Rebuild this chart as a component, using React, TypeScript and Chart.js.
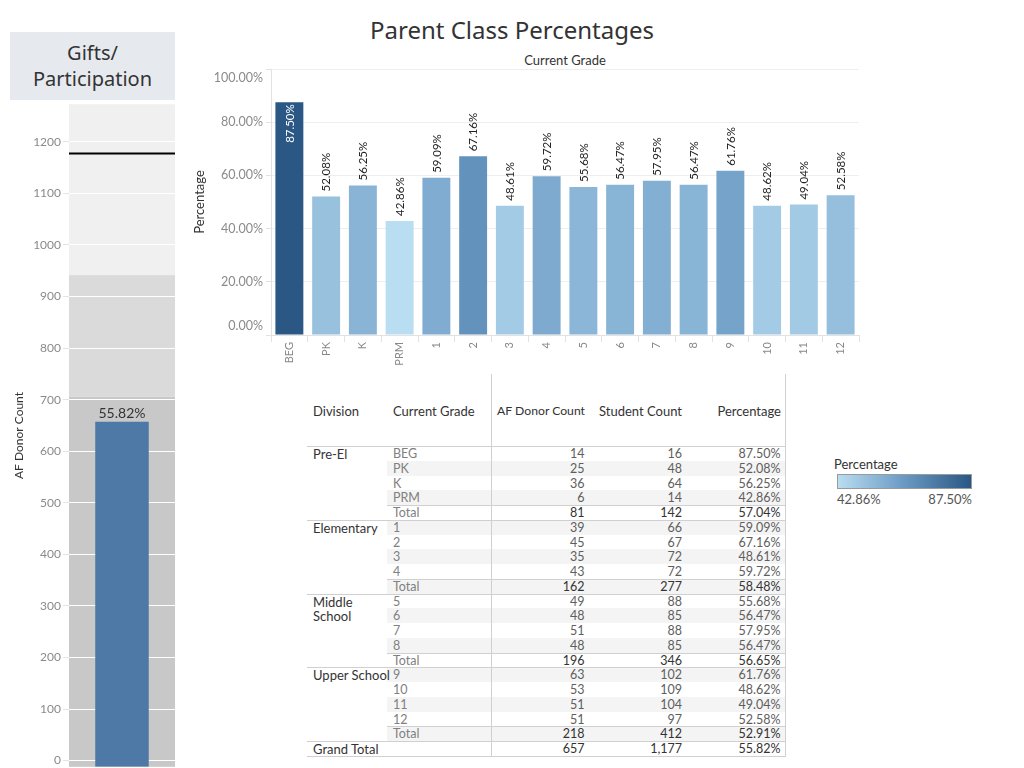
import React, { useEffect, useRef } from 'react';
import { Chart, registerables } from 'chart.js';

Chart.register(...registerables);

// ---------- data ----------
const grades = ['BEG', 'PK', 'K', 'PRM', '1', '2', '3', '4', '5', '6', '7', '8', '9', '10', '11', '12'];
const gradePercentages = [87.5, 52.08, 56.25, 42.86, 59.09, 67.16, 48.61, 59.72, 55.68, 56.47, 57.95, 56.47, 61.76, 48.62, 49.04, 52.58];
const donorCounts = [14, 25, 36, 6, 39, 45, 35, 43, 49, 48, 51, 48, 63, 53, 51, 51];
const studentCounts = [16, 48, 64, 14, 66, 67, 72, 72, 88, 85, 88, 85, 102, 109, 104, 97];
const divisions = ['Pre-El', 'Elementary', 'Middle School', 'Upper School'];
const gradesPerDivision = [4, 4, 4, 4];
const divisionDonorTotals = [81, 162, 196, 218];
const divisionStudentTotals = [142, 277, 346, 412];
const divisionPctTotals = [57.04, 58.48, 56.65, 52.91];
const grandDonorTotal = 657;
const grandStudentTotal = 1177;
const grandPctTotal = 55.82;
const pctTicks = [0, 20, 40, 60, 80, 100];
const countTicks = [0, 100, 200, 300, 400, 500, 600, 700, 800, 900, 1000, 1100, 1200];
const participationBandFractions = [0.6, 0.8];

// ---------- styles ----------
const FONT = 'Lato';
const BIG_FONT = '"Noto Sans"';
const bandColors = ['#c8c8c8', '#dadada', '#f0f0f0'];
const stops: [number, number[]][] = [
  [0, [185, 221, 241]],
  [0.5, [105, 153, 195]],
  [1, [42, 87, 131]],
];
const pctMin = Math.min(...gradePercentages);
const pctMax = Math.max(...gradePercentages);

function seqColor(v: number): string {
  const t = Math.max(0, Math.min(1, (v - pctMin) / (pctMax - pctMin)));
  for (let i = 0; i < stops.length - 1; i++) {
    const [t0, c0] = stops[i];
    const [t1, c1] = stops[i + 1];
    if (t <= t1) {
      const f = (t - t0) / (t1 - t0);
      const c = c0.map((x, k) => Math.round(x + (c1[k] - x) * f));
      return `rgb(${c[0]},${c[1]},${c[2]})`;
    }
  }
  const c = stops[stops.length - 1][1];
  return `rgb(${c[0]},${c[1]},${c[2]})`;
}

const fmtPct = (v: number) => v.toFixed(2) + '%';

const LEFT_MIN = -12;
const LEFT_MAX = 1273;

export default function App() {
  const leftRef = useRef<HTMLCanvasElement>(null);
  const mainRef = useRef<HTMLCanvasElement>(null);

  useEffect(() => {
    const bandPlugin = {
      id: 'bands',
      beforeDraw(chart: any) {
        const { ctx, chartArea: a, scales } = chart;
        const y = scales.y;
        const edges = [y.min, ...participationBandFractions.map((f) => f * grandStudentTotal), y.max];
        ctx.save();
        for (let i = 0; i < edges.length - 1; i++) {
          const top = y.getPixelForValue(edges[i + 1]);
          const bot = y.getPixelForValue(edges[i]);
          ctx.fillStyle = bandColors[i];
          ctx.fillRect(a.left, top, a.right - a.left, bot - top);
        }
        ctx.restore();
      },
      beforeDatasetsDraw(chart: any) {
        const { ctx, chartArea: a, scales } = chart;
        const yy = Math.round(scales.y.getPixelForValue(grandStudentTotal)) - 0.5;
        ctx.save();
        ctx.strokeStyle = '#000000';
        ctx.lineWidth = 2;
        ctx.beginPath();
        ctx.moveTo(a.left, yy);
        ctx.lineTo(a.right, yy);
        ctx.stroke();
        ctx.restore();
      },
      afterDatasetsDraw(chart: any) {
        const { ctx } = chart;
        const bar = chart.getDatasetMeta(0).data[0];
        ctx.save();
        ctx.font = `14px ${FONT}`;
        ctx.fillStyle = '#333333';
        ctx.textAlign = 'center';
        ctx.textBaseline = 'alphabetic';
        ctx.fillText(fmtPct(grandPctTotal), bar.x, bar.y - 4);
        ctx.restore();
      },
    };

    const left = new Chart(leftRef.current!, {
      type: 'bar',
      data: {
        labels: ['Gifts'],
        datasets: [
          {
            data: [grandDonorTotal],
            backgroundColor: '#4e79a7',
            barPercentage: 0.505,
            categoryPercentage: 1,
            base: LEFT_MIN,
          } as any,
        ],
      },
      options: {
        responsive: false,
        animation: false,
        layout: { padding: { top: 8, bottom: 8, left: 0, right: 0 } },
        plugins: { legend: { display: false }, tooltip: { enabled: false } },
        scales: {
          x: { display: false },
          y: {
            min: LEFT_MIN,
            max: LEFT_MAX,
            afterBuildTicks: (s: any) => {
              s.ticks = countTicks.map((v) => ({ value: v }));
            },
            afterFit: (s: any) => {
              s.width = 59;
            },
            grid: { color: '#ffffff', lineWidth: 1, tickColor: '#e4e4e4', tickLength: 6 },
            border: { display: false },
            ticks: {
              color: '#8a8a8a',
              font: { family: FONT, size: 12 },
              padding: 2,
              callback: (v: any) => String(v),
            },
            title: { display: true, text: 'AF Donor Count', color: '#333333', font: { family: FONT, size: 12 }, padding: 2 },
          },
        },
      },
      plugins: [bandPlugin],
    });

    const mainPlugin = {
      id: 'mainLabels',
      afterDatasetsDraw(chart: any) {
        const { ctx, chartArea: a } = chart;
        const meta = chart.getDatasetMeta(0);
        ctx.save();
        ctx.font = `11.5px ${FONT}`;
        ctx.textBaseline = 'middle';
        meta.data.forEach((bar: any, i: number) => {
          const text = fmtPct(gradePercentages[i]);
          const w = ctx.measureText(text).width;
          ctx.save();
          if (bar.y - 5 - w < a.top) {
            ctx.translate(bar.x, bar.y + 2);
            ctx.rotate(-Math.PI / 2);
            ctx.textAlign = 'right';
            ctx.fillStyle = '#ffffff';
          } else {
            ctx.translate(bar.x, bar.y - 5);
            ctx.rotate(-Math.PI / 2);
            ctx.textAlign = 'left';
            ctx.fillStyle = '#1e1e1e';
          }
          ctx.fillText(text, 0, 0.5);
          ctx.restore();
        });
        ctx.restore();
      },
      afterDraw(chart: any) {
        const { ctx, chartArea: a, scales } = chart;
        const y = scales.y;
        ctx.save();
        ctx.font = `12.5px ${FONT}`;
        ctx.fillStyle = '#8a8a8a';
        ctx.textAlign = 'right';
        ctx.textBaseline = 'middle';
        pctTicks.forEach((v) => {
          let py = y.getPixelForValue(v);
          py = Math.max(a.top + 9, Math.min(a.bottom - 9, py));
          ctx.fillText(fmtPct(v), a.left - 8, py);
        });
        ctx.restore();
      },
    };

    const main = new Chart(mainRef.current!, {
      type: 'bar',
      data: {
        labels: grades,
        datasets: [
          {
            data: gradePercentages,
            backgroundColor: gradePercentages.map(seqColor),
            barPercentage: 0.76,
            categoryPercentage: 1,
          },
        ],
      },
      options: {
        responsive: false,
        animation: false,
        layout: { padding: { top: 8, bottom: 0, left: 0, right: 11 } },
        plugins: { legend: { display: false }, tooltip: { enabled: false } },
        scales: {
          x: {
            grid: { offset: true, drawOnChartArea: false, color: '#e2e2e2', tickLength: 7 },
            border: { color: '#e2e2e2' },
            ticks: { minRotation: 90, maxRotation: 90, autoSkip: false, padding: 0, color: '#888888', font: { family: FONT, size: 11 } },
            afterFit: (s: any) => {
              s.height = 35;
            },
          },
          y: {
            min: 0,
            max: 100,
            afterBuildTicks: (s: any) => {
              s.ticks = pctTicks.map((v) => ({ value: v }));
            },
            afterFit: (s: any) => {
              s.width = 83;
            },
            grid: { color: '#eeeeee', tickColor: '#e2e2e2', tickLength: 5 },
            border: { color: '#e2e2e2' },
            ticks: { display: false },
            title: { display: true, text: 'Percentage', color: '#333333', font: { family: FONT, size: 13 }, padding: 4 },
          },
        },
      },
      plugins: [mainPlugin],
    });

    return () => {
      left.destroy();
      main.destroy();
    };
  }, []);

  // ---------- table rows ----------
  type Row = { div?: string; grade: string; donor: number; student: number; pct: number; total: boolean };
  const rows: Row[] = [];
  let gi = 0;
  divisions.forEach((d, di) => {
    for (let k = 0; k < gradesPerDivision[di]; k++) {
      rows.push({
        div: k === 0 ? d : undefined,
        grade: grades[gi],
        donor: donorCounts[gi],
        student: studentCounts[gi],
        pct: gradePercentages[gi],
        total: false,
      });
      gi++;
    }
    rows.push({ grade: 'Total', donor: divisionDonorTotals[di], student: divisionStudentTotals[di], pct: divisionPctTotals[di], total: true });
  });
  rows.push({ div: 'Grand Total', grade: '', donor: grandDonorTotal, student: grandStudentTotal, pct: grandPctTotal, total: true });

  const ROW_TOP = 446;
  const ROW_H = 14.75;
  const lineColor = '#d0d0d0';

  const abs = (s: React.CSSProperties): React.CSSProperties => ({ position: 'absolute', ...s });

  const hLines: React.ReactNode[] = [];
  hLines.push(<div key="hh" style={abs({ left: 307, top: ROW_TOP, width: 478, height: 1, background: lineColor })} />);
  let idx = 0;
  divisions.forEach((d, di) => {
    const totalIdx = idx + gradesPerDivision[di];
    hLines.push(
      <div key={'t' + di} style={abs({ left: 387, top: ROW_TOP + totalIdx * ROW_H, width: 398, height: 1, background: lineColor })} />
    );
    idx = totalIdx + 1;
    hLines.push(
      <div key={'g' + di} style={abs({ left: 307, top: ROW_TOP + idx * ROW_H, width: 478, height: 1, background: lineColor })} />
    );
  });
  hLines.push(
    <div key="bottom" style={abs({ left: 307, top: ROW_TOP + rows.length * ROW_H, width: 478, height: 1, background: lineColor })} />
  );

  const bodyFont: React.CSSProperties = { fontFamily: FONT, fontSize: 12.5, lineHeight: ROW_H + 'px', whiteSpace: 'nowrap', paddingTop: 1 };
  const numCell = (right: number, text: string, color: string, top: number, key: string) => (
    <div key={key} style={abs({ ...bodyFont, left: right - 100, width: 100, top, textAlign: 'right', color })}>
      {text}
    </div>
  );

  const headerStyle: React.CSSProperties = { fontFamily: FONT, fontSize: 13, lineHeight: '16px', color: '#333', top: 403, whiteSpace: 'nowrap' };

  return (
    <div style={{ position: 'absolute', left: 0, top: 0, width: 1024, height: 768, overflow: 'hidden', background: '#ffffff' }}>
      {/* Title */}
      <div style={abs({ left: 0, top: 15, width: 1024, textAlign: 'center', fontFamily: BIG_FONT, fontSize: 24, lineHeight: '30px', color: '#333' })}>
        Parent Class Percentages
      </div>

      {/* Left header */}
      <div
        style={abs({
          left: 10,
          top: 32,
          width: 165,
          height: 68,
          background: '#e6eaef',
          textAlign: 'center',
          fontFamily: BIG_FONT,
          fontSize: 20,
          lineHeight: '26px',
          color: '#333',
          paddingTop: 8,
          boxSizing: 'border-box',
        })}
      >
        Gifts/
        <br />
        Participation
      </div>

      {/* Left chart */}
      <div style={abs({ left: 10, top: 95 })}>
        <canvas ref={leftRef} width={165} height={681} style={{ width: 165, height: 681, display: 'block' }} />
      </div>

      {/* Main chart header */}
      <div style={abs({ left: 271, top: 52, width: 588, textAlign: 'center', fontFamily: FONT, fontSize: 13, lineHeight: '16px', color: '#333' })}>
        Current Grade
      </div>

      {/* Main chart */}
      <div style={abs({ left: 188, top: 61 })}>
        <canvas ref={mainRef} width={682} height={309} style={{ width: 682, height: 309, display: 'block' }} />
      </div>

      {/* Table stripes */}
      {rows.map((r, i) =>
        i % 2 === 1 ? (
          <div key={'s' + i} style={abs({ left: 387, top: ROW_TOP + i * ROW_H, width: 398, height: ROW_H, background: '#f4f4f4' })} />
        ) : null
      )}

      {/* Table lines */}
      {hLines}
      <div style={abs({ left: 491, top: 374, width: 1, height: ROW_TOP + rows.length * ROW_H - 374, background: lineColor })} />
      <div style={abs({ left: 785, top: 374, width: 1, height: ROW_TOP + rows.length * ROW_H - 374 + 1, background: lineColor })} />

      {/* Table headers */}
      <div style={abs({ ...headerStyle, left: 313 })}>Division</div>
      <div style={abs({ ...headerStyle, left: 393 })}>Current Grade</div>
      <div style={abs({ ...headerStyle, fontSize: 12.2, left: 485, width: 100, textAlign: 'right' })}>AF Donor Count</div>
      <div style={abs({ ...headerStyle, left: 582, width: 100, textAlign: 'right' })}>Student Count</div>
      <div style={abs({ ...headerStyle, left: 681, width: 100, textAlign: 'right' })}>Percentage</div>

      {/* Table body */}
      {rows.map((r, i) => {
        const top = ROW_TOP + i * ROW_H;
        const numColor = r.total ? '#333333' : '#5e5e5e';
        return (
          <React.Fragment key={'r' + i}>
            {r.div ? (
              <div
                style={abs({
                  left: 313,
                  top,
                  width: 76,
                  paddingTop: 1,
                  fontFamily: FONT,
                  fontSize: 13,
                  lineHeight: ROW_H + 'px',
                  color: '#333',
                  whiteSpace: r.div === 'Middle School' ? 'normal' : 'nowrap',
                })}
              >
                {r.div}
              </div>
            ) : null}
            {r.grade ? <div style={abs({ ...bodyFont, left: 393, top, color: '#808080' })}>{r.grade}</div> : null}
            {numCell(584.5, r.donor.toLocaleString('en-US'), numColor, top, 'd')}
            {numCell(682, r.student.toLocaleString('en-US'), numColor, top, 'st')}
            {numCell(780.5, fmtPct(r.pct), numColor, top, 'p')}
          </React.Fragment>
        );
      })}

      {/* Legend */}
      <div style={abs({ left: 834, top: 456, fontFamily: FONT, fontSize: 13, lineHeight: '16px', color: '#333' })}>Percentage</div>
      <div
        style={abs({
          left: 837,
          top: 474,
          width: 135,
          height: 15,
          boxSizing: 'border-box',
          border: '1px solid #9a9a9a',
          background: `linear-gradient(to right, ${seqColor(pctMin)}, ${seqColor((pctMin + pctMax) / 2)}, ${seqColor(pctMax)})`,
        })}
      />
      <div style={abs({ left: 837, top: 491, fontFamily: FONT, fontSize: 13, lineHeight: '16px', color: '#555' })}>{fmtPct(pctMin)}</div>
      <div style={abs({ left: 872, width: 100, textAlign: 'right', top: 491, fontFamily: FONT, fontSize: 13, lineHeight: '16px', color: '#555' })}>
        {fmtPct(pctMax)}
      </div>
    </div>
  );
}
